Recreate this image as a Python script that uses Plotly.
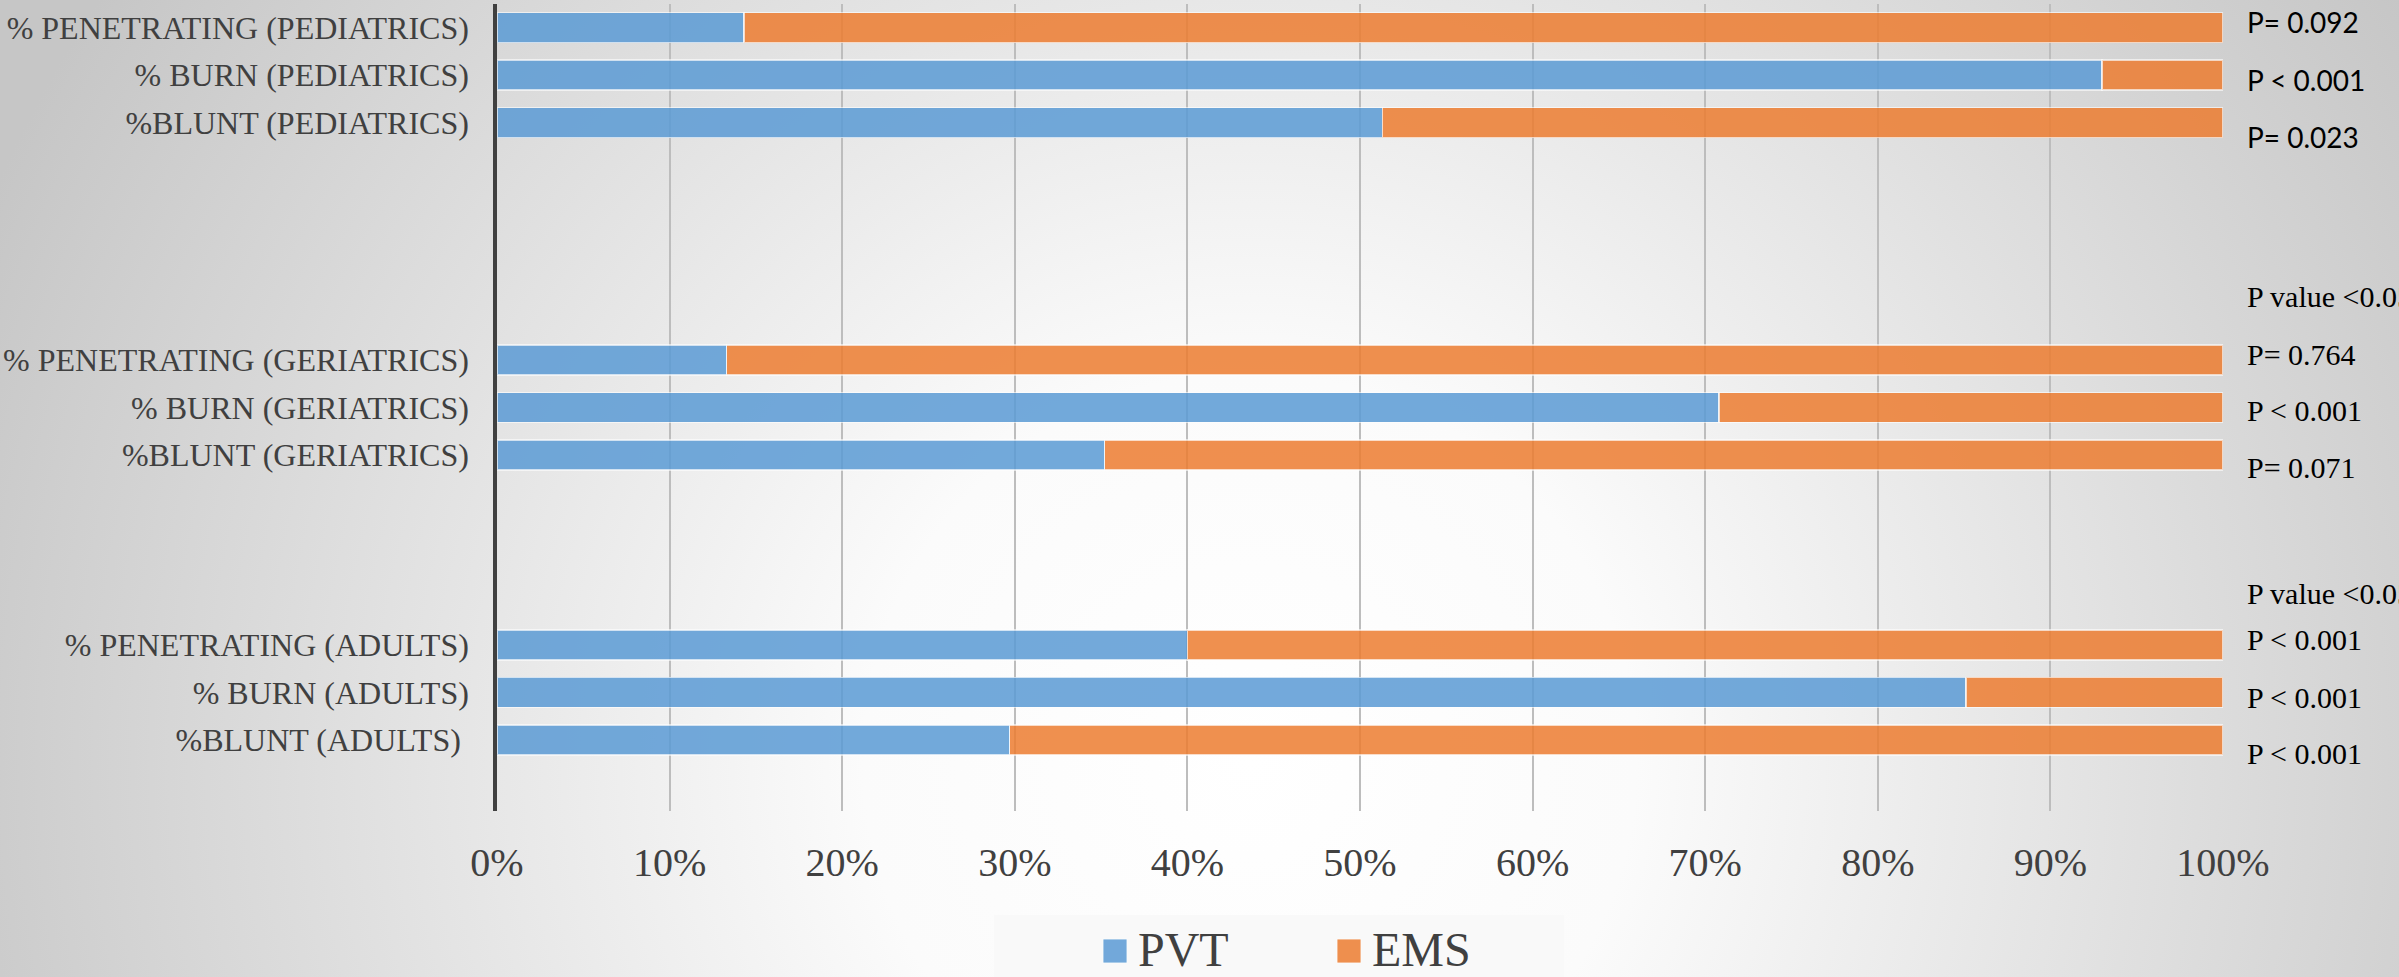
import base64
import plotly.graph_objects as go

# Rows from top to bottom; None marks an empty spacer slot between groups
row_labels = [
    "% PENETRATING (PEDIATRICS)", "% BURN (PEDIATRICS)", "%BLUNT (PEDIATRICS)",
    None, None, None, None,
    "% PENETRATING (GERIATRICS)", "% BURN (GERIATRICS)", "%BLUNT (GERIATRICS)",
    None, None, None,
    "% PENETRATING (ADULTS)", "% BURN (ADULTS)", "%BLUNT (ADULTS)\u00a0",
    None,
]

# Share of patients by mode of arrival (percent), in the order of the labelled rows
pvt = [14.3, 93.0, 51.3, 13.3, 70.8, 35.2, 40.0, 85.1, 29.7]
ems = [85.7, 7.0, 48.7, 86.7, 29.2, 64.8, 60.0, 14.9, 70.3]

# Significance notes printed to the right of the chart
p_texts = ["P= 0.092", "P < 0.001", "P= 0.023",
           "P value <0.05", "P= 0.764", "P < 0.001", "P= 0.071",
           "P value <0.05", "P < 0.001", "P < 0.001", "P < 0.001"]

series_names = ["PVT", "EMS"]

x_ticks = list(range(0, 101, 10))
x_tick_text = [f"{v}%" for v in x_ticks]

slots = [i for i, lab in enumerate(row_labels) if lab is not None]
labels = [row_labels[i] for i in slots]
n_slots = len(row_labels)

W, H = 2399, 977
ML, MR, MT, MB = 497, 176, 4, 166
PW, PH = W - ML - MR, H - MT - MB

SERIF = "Liberation Serif"
TXT = "#404040"
BLUE, ORANGE = "#5B9BD5", "#ED7D31"
colors = [BLUE, ORANGE]


def px_x(px):
    return (px - ML) / PW


def px_y(py):
    return 1 - (py - MT) / PH


fig = go.Figure()
for name, vals, col in zip(series_names, (pvt, ems), colors):
    fig.add_trace(go.Bar(
        name=name, y=slots, x=vals, orientation="h", showlegend=False,
        marker=dict(color=col, opacity=0.85,
                    line=dict(color="rgba(255,255,255,0.7)", width=1.5)),
    ))

# Soft radial backdrop
svg = (
    f'<svg xmlns="http://www.w3.org/2000/svg" width="{W}" height="{H}">'
    '<defs><radialGradient id="g" gradientUnits="userSpaceOnUse" '
    'cx="1250" cy="760" r="1380">'
    '<stop offset="0" stop-color="#ffffff"/>'
    '<stop offset="0.28" stop-color="#fbfbfb"/>'
    '<stop offset="1" stop-color="#c6c6c6"/>'
    '</radialGradient></defs>'
    f'<rect width="{W}" height="{H}" fill="url(#g)"/></svg>'
)
bg_src = "data:image/svg+xml;base64," + base64.b64encode(svg.encode()).decode()

# Placement of the significance notes, in row units
p_rows = [-0.12, 1.1, 2.3, 5.67, 6.89, 8.07, 9.27, 11.92, 12.89, 14.1, 15.29]
annotations = []
for i, (t, yr) in enumerate(zip(p_texts, p_rows)):
    sans = i < 3
    annotations.append(dict(
        text=t, xref="paper", yref="y", x=px_x(2245), y=yr,
        xanchor="left", yanchor="middle", showarrow=False,
        font=dict(family="Lato" if sans else SERIF,
                  size=28 if sans else 30, color="#000000"),
    ))

# Key below the chart: light panel, square swatches and serif labels
shapes = [dict(type="rect", xref="paper", yref="paper", layer="below",
               x0=px_x(994), x1=px_x(1564), y0=px_y(915), y1=px_y(985),
               fillcolor="rgba(248,248,248,0.85)", line=dict(width=0))]
key_x = [1103, 1337]
for name, col, kx in zip(series_names, colors, key_x):
    shapes.append(dict(type="rect", xref="paper", yref="paper",
                       x0=px_x(kx), x1=px_x(kx + 24),
                       y0=px_y(939), y1=px_y(963),
                       fillcolor=col, opacity=0.85,
                       line=dict(color="rgba(255,255,255,0.8)", width=1)))
    annotations.append(dict(
        text=name, xref="paper", yref="paper", x=px_x(kx + 33), y=px_y(950),
        xanchor="left", yanchor="middle", showarrow=False,
        font=dict(family=SERIF, size=48, color=TXT),
    ))

fig.update_layout(
    width=W, height=H,
    margin=dict(l=ML, r=MR, t=MT, b=MB, pad=0),
    barmode="stack", bargap=1 - 30 / 47.5,
    paper_bgcolor="#dcdcdc", plot_bgcolor="rgba(0,0,0,0)",
    images=[dict(source=bg_src, xref="paper", yref="paper",
                 x=-ML / PW, y=1 + MT / PH, sizex=W / PW, sizey=H / PH,
                 xanchor="left", yanchor="top", sizing="stretch",
                 layer="below")],
    xaxis=dict(range=[0, 100], tickvals=x_ticks, ticktext=x_tick_text,
               showgrid=True, gridcolor="#bdbdbd", gridwidth=1.5,
               zeroline=False, showline=False, ticks="",
               ticklabelstandoff=24,
               tickfont=dict(family=SERIF, size=40, color=TXT)),
    yaxis=dict(range=[n_slots - 0.5, -0.5], tickvals=slots, ticktext=labels,
               showgrid=False, zeroline=False, showline=True,
               linecolor="#404040", linewidth=3.5, ticks="",
               ticklabelstandoff=18,
               tickfont=dict(family=SERIF, size=32, color=TXT)),
    shapes=shapes,
    annotations=annotations,
    showlegend=False,
)

fig.write_html("out.html")
